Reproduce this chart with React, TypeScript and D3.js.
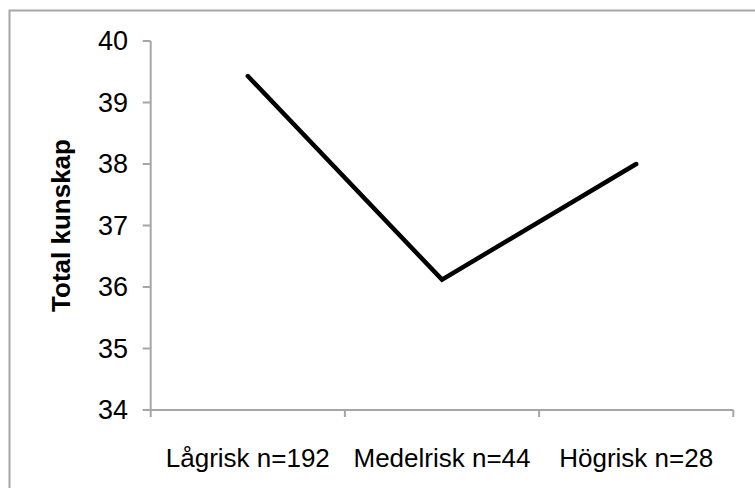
import React from "react";
import * as d3 from "d3";

const categories = ["Lågrisk n=192", "Medelrisk n=44", "Högrisk n=28"];
const values = [39.43, 36.12, 38.0];
const yTicks = [34, 35, 36, 37, 38, 39, 40];
const yTitle = "Total kunskap";

export default function App() {
  const W = 755;
  const H = 488;
  const left = 150.7;
  const right = 733.3;
  const top = 41;
  const bottom = 410;
  const x = d3.scaleBand<string>().domain(categories).range([left, right]).padding(0);
  const y = d3.scaleLinear().domain([34, 40]).range([bottom, top]);
  const line = d3
    .line<number>()
    .x((_, i) => (x(categories[i]) as number) + x.bandwidth() / 2)
    .y((d) => y(d));
  const axisColor = "#a6a6a6";
  const font = "'Liberation Sans', Arial, sans-serif";
  const boundaries = [left, ...categories.map((c) => (x(c) as number) + x.bandwidth())];
  return (
    <svg
      width={W}
      height={H}
      style={{ position: "absolute", left: 0, top: 0, background: "#fff" }}
      fontFamily={font}
    >
      <rect x={9.5} y={10.5} width={W + 20} height={H + 20} fill="#fff" stroke={axisColor} strokeWidth={2} />
      {/* y axis */}
      <line x1={left} x2={left} y1={top} y2={bottom} stroke={axisColor} strokeWidth={2} />
      {yTicks.map((t) => (
        <g key={t}>
          <line x1={left - 8} x2={left} y1={y(t)} y2={y(t)} stroke={axisColor} strokeWidth={2} />
          <text x={128} y={y(t)} dy="0.35em" textAnchor="end" fontSize={27} fill="#000">
            {t}
          </text>
        </g>
      ))}
      {/* x axis */}
      <line x1={left} x2={right} y1={bottom} y2={bottom} stroke={axisColor} strokeWidth={2} />
      {boundaries.map((b, i) => (
        <line key={i} x1={b} x2={b} y1={bottom} y2={bottom + 7} stroke={axisColor} strokeWidth={2} />
      ))}
      {categories.map((c) => (
        <text
          key={c}
          x={(x(c) as number) + x.bandwidth() / 2}
          y={466.5}
          textAnchor="middle"
          fontSize={26}
          fill="#000"
        >
          {c}
        </text>
      ))}
      <text
        transform={`translate(70, ${(top + bottom) / 2}) rotate(-90)`}
        textAnchor="middle"
        fontSize={26}
        fontWeight="bold"
        fill="#000"
      >
        {yTitle}
      </text>
      <path
        d={line(values) || ""}
        fill="none"
        stroke="#000"
        strokeWidth={4.5}
        strokeLinecap="round"
        strokeLinejoin="miter"
      />
    </svg>
  );
}
